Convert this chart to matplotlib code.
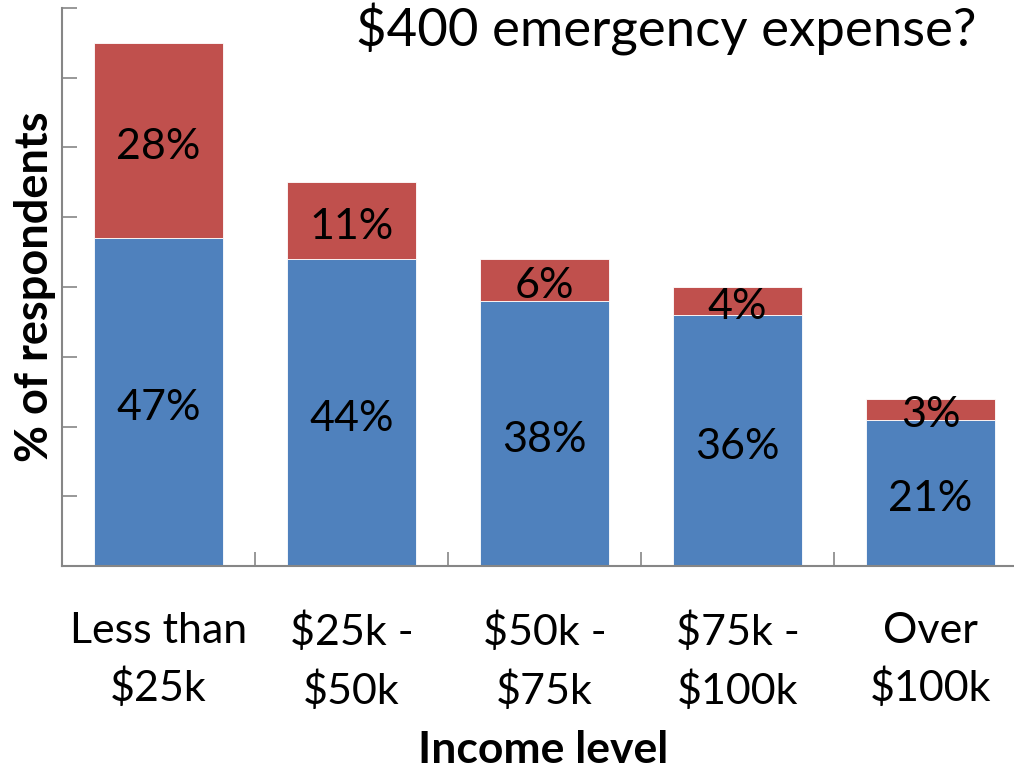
import matplotlib
matplotlib.use("Agg")
import matplotlib.pyplot as plt
import numpy as np

categories = ["Less than\n$25k", "$25k -\n$50k", "$50k -\n$75k", "$75k -\n$100k", "Over\n$100k"]
blue_vals = [47, 44, 38, 36, 21]
red_vals = [28, 11, 6, 4, 3]
title = "$400 emergency expense?"
ylabel = "% of respondents"
xlabel = "Income level"

plt.rcParams['font.family'] = ['Lato', 'DejaVu Sans']

fig = plt.figure(figsize=(10.14, 7.71), dpi=100)
ax = fig.add_axes([62/1014, 1 - 566/771, 965/1014, 558/771])

x = np.arange(len(categories))
w = 0.665
blue = "#4F81BD"
red = "#C0504D"
ax.bar(x, blue_vals, width=w, color=blue, edgecolor="white", linewidth=0.6)
ax.bar(x, red_vals, width=w, bottom=blue_vals, color=red, edgecolor="white", linewidth=0.6)

for xi, b, r in zip(x, blue_vals, red_vals):
    ax.annotate(f"{b}%", (xi, b / 2), xytext=(0, -4.5), textcoords="offset points",
                ha="center", va="center", fontsize=31)
    ax.annotate(f"{r}%", (xi, b + r / 2), xytext=(0, -4.5), textcoords="offset points",
                ha="center", va="center", fontsize=31)

ax.set_xlim(-0.5, 4.5)
ax.set_ylim(0, 80)
ax.set_yticks(np.arange(0, 81, 10))
ax.set_yticklabels([])
ax.tick_params(axis="y", direction="in", length=11, color="#868686", width=1.2)
ax.set_xticks(x)
ax.set_xticklabels(categories, fontsize=31, linespacing=1.53)
ax.tick_params(axis="x", which="major", length=0, pad=33)
ax.set_xticks(np.arange(0.5, 4.5, 1), minor=True)
ax.tick_params(axis="x", which="minor", direction="in", length=10, color="#868686", width=1.2)

for s in ["top", "right"]:
    ax.spines[s].set_visible(False)
for s in ["left", "bottom"]:
    ax.spines[s].set_color("#868686")
    ax.spines[s].set_linewidth(1.5)

fig.text(35/1014, 1 - 287/771, ylabel, rotation=90, ha="center", va="center",
         fontsize=32.5, fontweight="bold")
fig.text(543/1014, 1 - 750/771, xlabel, ha="center", va="center",
         fontsize=32, fontweight="bold")
fig.text(666/1014, 1 - 30/771, title, ha="center", va="center", fontsize=38)

fig.savefig("out.png", dpi=100)
